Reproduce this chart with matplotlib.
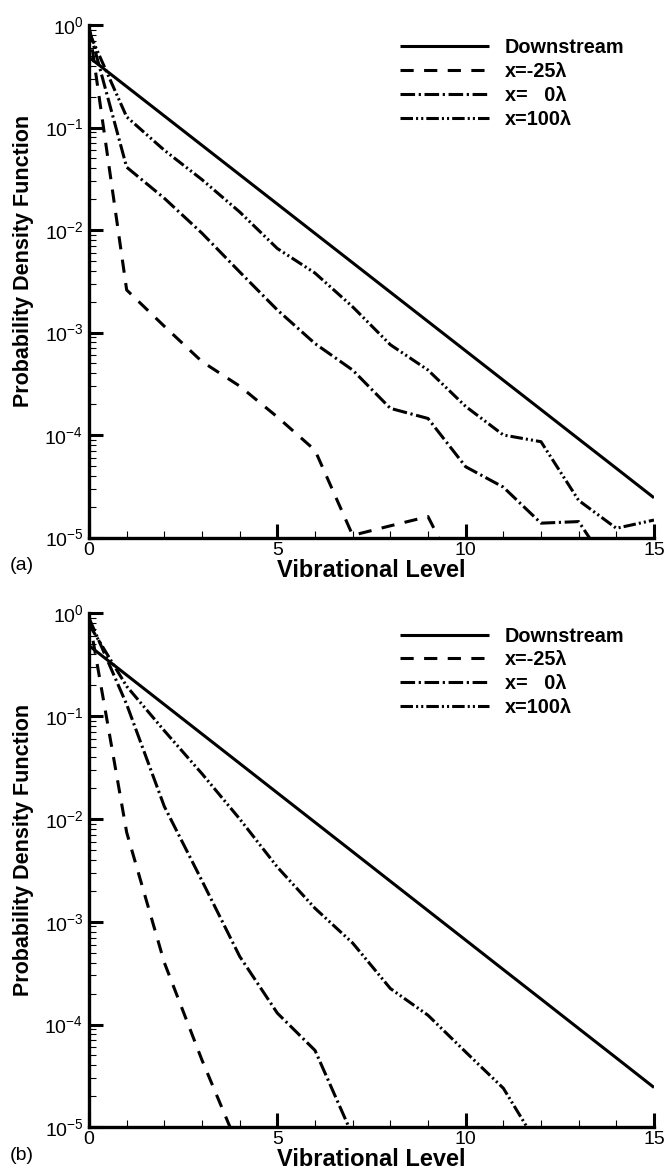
import matplotlib
matplotlib.use("Agg")
import matplotlib.pyplot as plt
from matplotlib.ticker import LogLocator, FixedLocator, MultipleLocator, LogFormatterMathtext, NullFormatter

plt.rcParams['font.family'] = ['Liberation Sans', 'DejaVu Sans']
plt.rcParams['mathtext.default'] = 'regular'
plt.rcParams['lines.scale_dashes'] = False

levels = list(range(16))

# Panel (a)
a_downstream = [0.485, 0.2507, 0.1296, 0.0670, 0.03465, 0.01791, 0.00926, 0.00479,
                0.002475, 0.00128, 6.62e-4, 3.42e-4, 1.77e-4, 9.14e-5, 4.73e-5, 2.44e-5]
a_m25 = [0.98, 2.6e-3, 1.15e-3, 5.2e-4, 3.0e-4, 1.5e-4, 7.1e-5, 1.05e-5, 1.3e-5, 1.6e-5, 3e-6]
a_0 = [0.93, 0.041, 0.0204, 9.3e-3, 3.9e-3, 1.66e-3, 7.8e-4, 4.3e-4, 1.82e-4, 1.45e-4,
       4.9e-5, 3.1e-5, 1.38e-5, 1.43e-5, 4e-6]
a_100 = [0.85, 0.127, 0.060, 0.031, 0.015, 6.6e-3, 3.8e-3, 1.78e-3, 7.6e-4, 4.3e-4,
         1.9e-4, 1.0e-4, 8.6e-5, 2.3e-5, 1.23e-5, 1.48e-5]

# Panel (b)
b_downstream = a_downstream
b_m25 = [0.91, 7.4e-3, 4.0e-4, 4.5e-5, 6e-6]
b_0 = [0.9, 0.13, 0.0132, 2.5e-3, 4.6e-4, 1.29e-4, 5.6e-5, 8.3e-6]
b_100 = [0.78, 0.195, 0.072, 0.0275, 0.010, 3.4e-3, 1.35e-3, 6.2e-4, 2.24e-4, 1.23e-4,
         5.4e-5, 2.4e-5, 6e-6]

labels = ['Downstream', 'x=-25\u03bb', 'x=   0\u03bb', 'x=100\u03bb']
panel_tags = ['(a)', '(b)']

LW = 2.2
styles = [
    dict(linestyle='-'),
    dict(linestyle=(0, (9.5, 7.5))),
    dict(linestyle=(0, (10.5, 2.6, 1.6, 2.6))),
    dict(linestyle=(0, (9.0, 2.2, 1.5, 2.2, 1.5, 2.2))),
]

W, H = 665, 1172
fig = plt.figure(figsize=(W / 100, H / 100), dpi=100)

def px_axes(left, top, right, bottom):
    return fig.add_axes([left / W, 1 - bottom / H, (right - left) / W, (bottom - top) / H])

axes_boxes = [(89, 25, 654, 537.5), (89, 613.3, 654, 1127.3)]
datasets = [(a_downstream, a_m25, a_0, a_100), (b_downstream, b_m25, b_0, b_100)]

for i, (box, data) in enumerate(zip(axes_boxes, datasets)):
    ax = px_axes(*box)
    handles = []
    for series, st, lab in zip(data, styles, labels):
        h, = ax.plot(levels[:len(series)], series, color='black', lw=LW,
                     solid_capstyle='butt', dash_capstyle='butt', label=lab, **st)
        handles.append(h)
    ax.set_yscale('log')
    ax.set_xlim(0, 15)
    ax.set_ylim(1e-5, 1)
    for s in ['top', 'right']:
        ax.spines[s].set_visible(False)
    for s in ['left', 'bottom']:
        ax.spines[s].set_linewidth(2.4)
    ax.xaxis.set_major_locator(FixedLocator([0, 5, 10, 15]))
    ax.xaxis.set_minor_locator(MultipleLocator(1))
    ax.yaxis.set_major_locator(LogLocator(base=10, numticks=10))
    ax.yaxis.set_minor_locator(LogLocator(base=10, subs=range(2, 10), numticks=20))
    ax.yaxis.set_major_formatter(LogFormatterMathtext())
    ax.yaxis.set_minor_formatter(NullFormatter())
    ax.tick_params(which='major', direction='in', length=10, width=2.2, labelsize=14,
                   top=False, right=False)
    ax.tick_params(which='minor', direction='in', length=5, width=0.8,
                   top=False, right=False)
    ax.tick_params(axis='y', which='major', pad=4)
    ax.tick_params(axis='x', which='major', pad=3)
    ax.set_ylabel('Probability Density Function', fontsize=15.5, fontweight='bold')
    ax.yaxis.set_label_coords(-0.098, 0.54)
    ax.set_xlabel('Vibrational Level', fontsize=17, fontweight='bold', labelpad=0)
    ax.text(-0.14, -0.055, panel_tags[i], transform=ax.transAxes, fontsize=14,
            ha='left', va='center')
    ax.legend(handles=handles, loc='upper left', bbox_to_anchor=(0.55, 0.974),
              frameon=False, handlelength=4.5, handletextpad=0.8,
              labelspacing=0.24, borderpad=0, borderaxespad=0,
              prop={'weight': 'bold', 'size': 14.3})

fig.savefig('out.png', dpi=100)
